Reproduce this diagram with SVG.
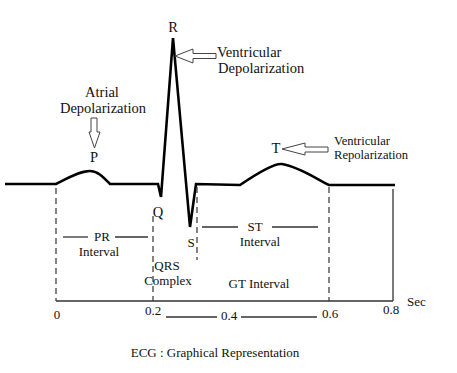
<svg xmlns="http://www.w3.org/2000/svg" width="457" height="373" viewBox="0 0 457 373">
<style>
text{font-family:"Liberation Serif","Times New Roman",serif;fill:#111}
.s13{font-size:13px}
.s14{font-size:14.5px}
.s12{font-size:12.6px}
.ecg{fill:none;stroke:#000;stroke-width:2.6;stroke-linejoin:miter}
.dash{stroke:#333;stroke-width:1.2;stroke-dasharray:6,4;fill:none}
.solid{stroke:#333;stroke-width:1.3;fill:none}
.harrow{fill:#fff;stroke:#444;stroke-width:1}
</style>
<rect width="457" height="373" fill="#fff"/>
<g id="connectors">
<path class="ecg" d="M5,184 L56,184 C68,178 80,171 90,171 C98,171 104,178 110,184 L158,184 L161,197 L173,38 L190,227 L196,184 L240,185 C262,170 275,163 282,164 C300,167 318,180 329,185 L395,185"/>
<line class="dash" x1="56" y1="188" x2="56" y2="301"/>
<line class="dash" x1="153" y1="216" x2="153" y2="301"/>
<line class="dash" x1="197" y1="187" x2="197" y2="260"/>
<line class="dash" x1="329" y1="187" x2="329" y2="301"/>
<line class="solid" x1="393" y1="189" x2="393" y2="301"/>
<line class="solid" x1="56" y1="301" x2="393" y2="301"/>
<line class="solid" x1="63" y1="237" x2="88" y2="237"/>
<line class="solid" x1="115" y1="237" x2="148" y2="237"/>
<line class="solid" x1="202" y1="227" x2="238" y2="227"/>
<line class="solid" x1="272" y1="227" x2="318" y2="227"/>
<line class="solid" x1="166" y1="317" x2="217" y2="317"/>
<line class="solid" x1="241" y1="317" x2="317" y2="317"/>
<polygon class="harrow" points="91,118 97,118 97,132 100,132 94.5,148 89,132 91,132"/>
<polygon class="harrow" points="175,56 193,49 193,53.5 216,53.5 216,58.5 193,58.5 193,63"/>
<polygon class="harrow" points="282,149 305,143 305,147 328,147 328,152 305,152 305,155"/>
</g>
<g id="atrial"><text class="s14" x="102" y="97" text-anchor="middle">Atrial</text><text class="s14" x="103" y="113" text-anchor="middle">Depolarization</text></g>
<g id="P"><text class="s14" x="94" y="162" text-anchor="middle">P</text></g>
<g id="R"><text class="s14" x="173" y="32" text-anchor="middle">R</text></g>
<g id="vdep"><text class="s14" x="217" y="57">Ventricular</text><text class="s14" x="218" y="73">Depolarization</text></g>
<g id="T"><text class="s14" x="276" y="153" text-anchor="middle">T</text></g>
<g id="vrep"><text class="s12" x="334" y="145">Ventricular</text><text class="s12" x="334" y="159">Repolarization</text></g>
<g id="Q"><text class="s14" x="158" y="217" text-anchor="middle">Q</text></g>
<g id="S"><text class="s13" x="191" y="247" text-anchor="middle">S</text></g>
<g id="PR"><text class="s13" x="102" y="241" text-anchor="middle">PR</text><text class="s13" x="99" y="256" text-anchor="middle">Interval</text></g>
<g id="ST"><text class="s13" x="255" y="231" text-anchor="middle">ST</text><text class="s13" x="260" y="246" text-anchor="middle">Interval</text></g>
<g id="QRS"><text class="s13" x="167" y="270" text-anchor="middle">QRS</text><text class="s13" x="168" y="285" text-anchor="middle">Complex</text></g>
<g id="GT"><text class="s13" x="259" y="288" text-anchor="middle">GT Interval</text></g>
<g id="ticks">
<text class="s13" x="57" y="319" text-anchor="middle">0</text>
<text class="s13" x="153" y="315" text-anchor="middle">0.2</text>
<text class="s13" x="229" y="320" text-anchor="middle">0.4</text>
<text class="s13" x="330" y="318" text-anchor="middle">0.6</text>
<text class="s13" x="391" y="314" text-anchor="middle">0.8</text>
<text class="s13" x="407" y="306">Sec</text>
</g>
<g id="caption"><text class="s13" x="215" y="357" text-anchor="middle">ECG : Graphical Representation</text></g>
</svg>
